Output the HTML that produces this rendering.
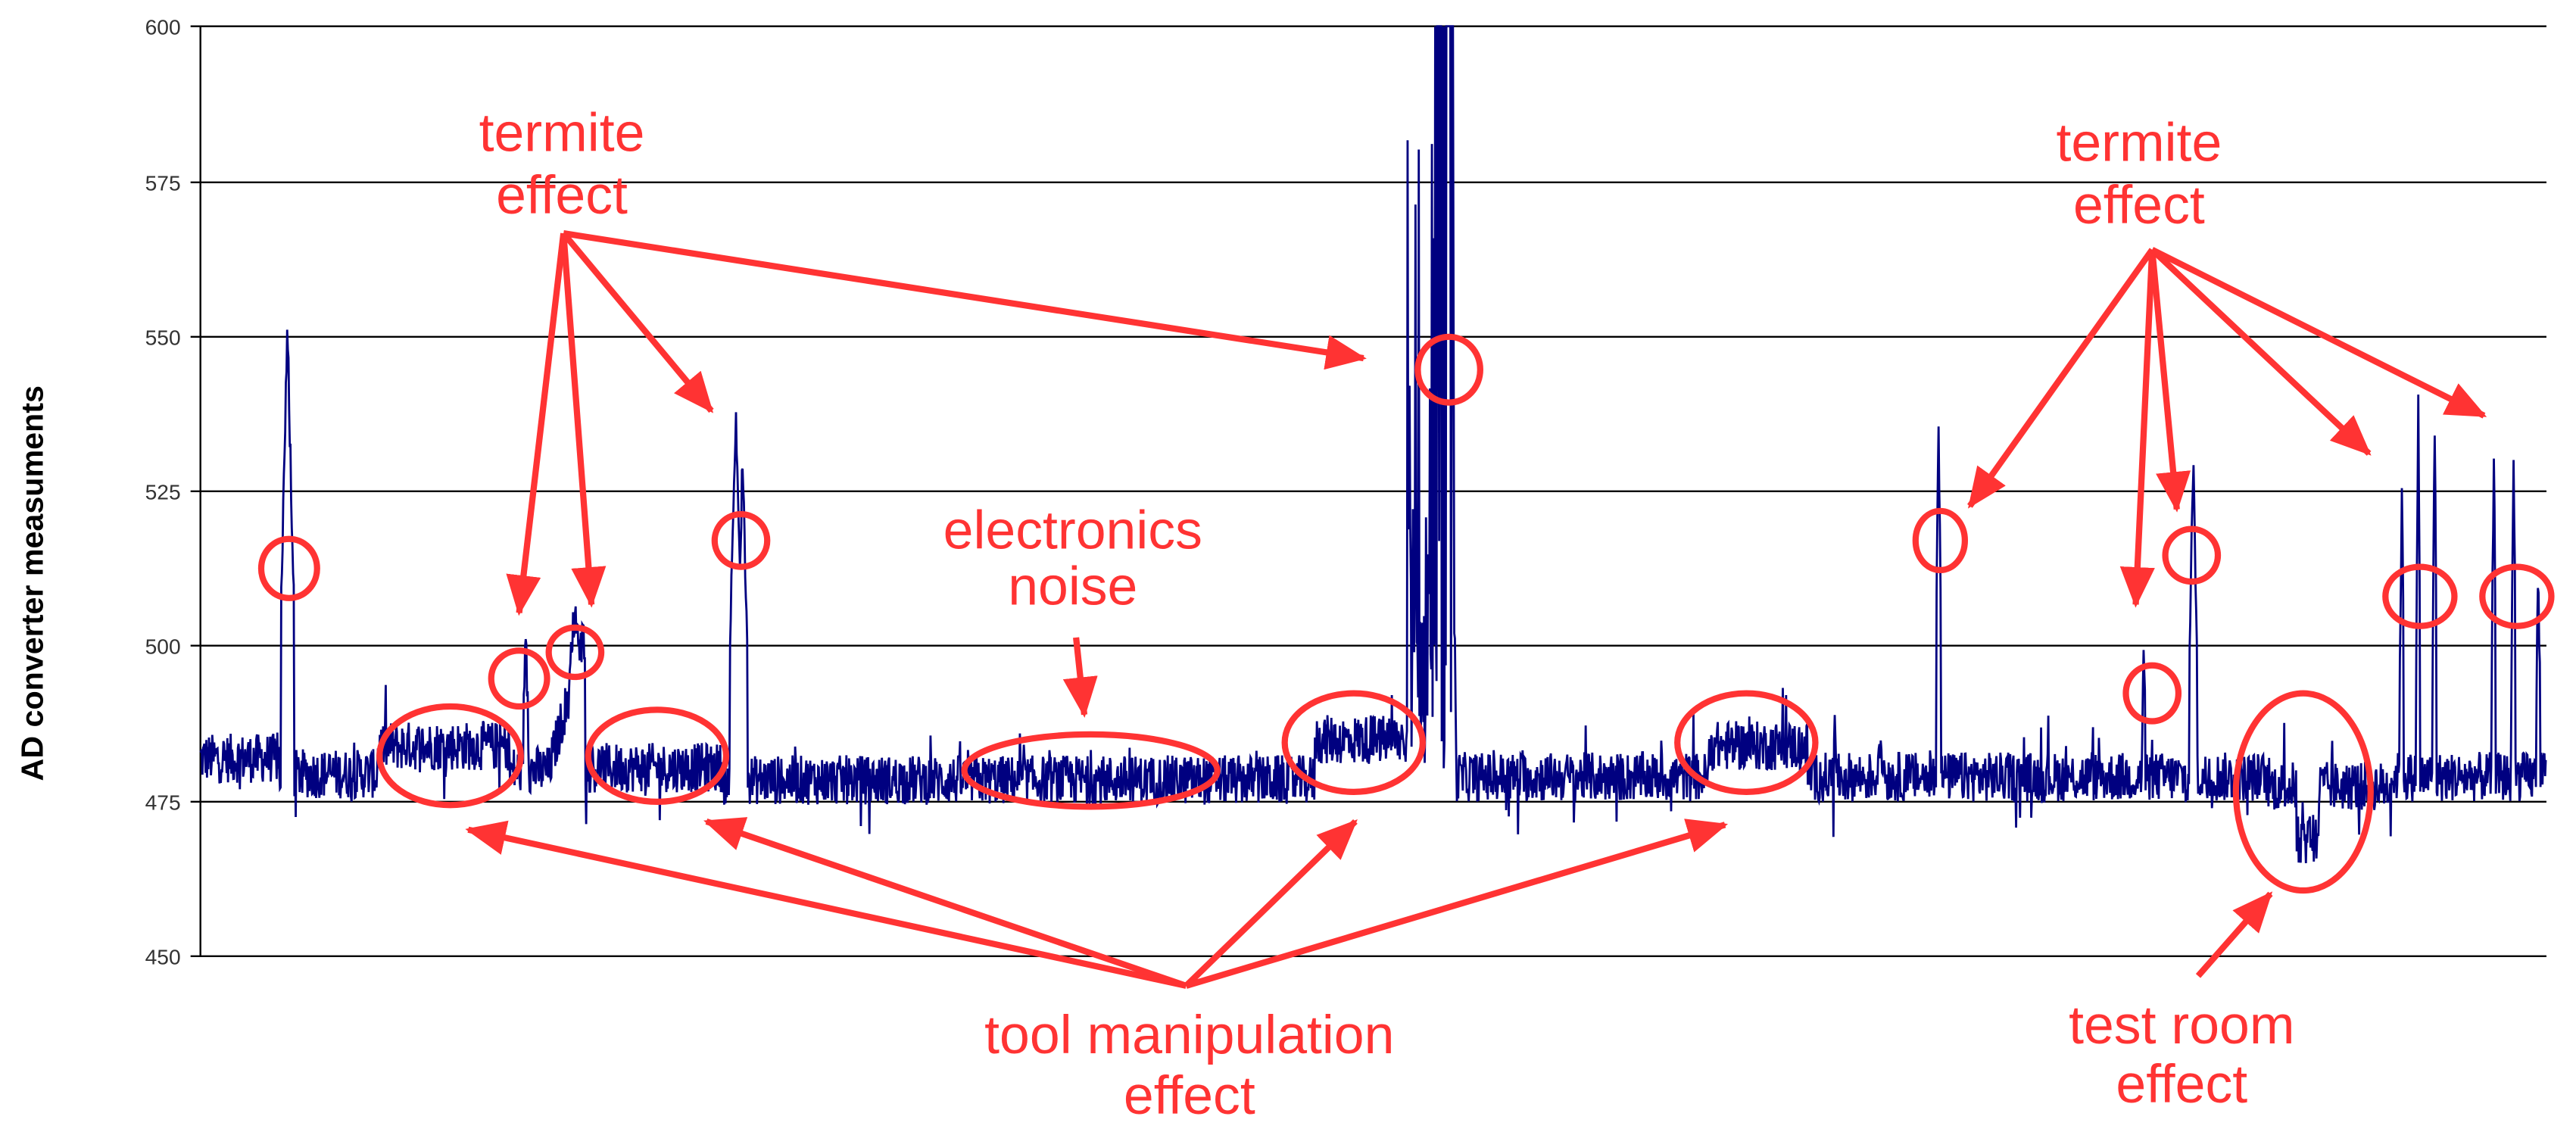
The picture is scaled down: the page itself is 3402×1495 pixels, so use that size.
<!DOCTYPE html>
<html><head><meta charset="utf-8"><style>
html,body{margin:0;padding:0;background:#fff;width:3402px;height:1495px;overflow:hidden}
svg{display:block}
.t{font-family:"Liberation Sans",sans-serif;fill:#ff3333;font-size:33px;text-anchor:middle}
.tk{font-family:"Liberation Sans",sans-serif;fill:#333;font-size:13px;text-anchor:end}
.r{fill:none;stroke:#ff3333;stroke-width:3.8}
.a{stroke:#ff3333;stroke-width:3.8;fill:none}
</style></head><body>
<svg id="s" width="3402" height="1495" viewBox="0 0 1568 689" preserveAspectRatio="none" xmlns="http://www.w3.org/2000/svg">
<defs><marker id="m" markerWidth="6.5" markerHeight="5.6" refX="6" refY="2.8" orient="auto" markerUnits="strokeWidth"><path d="M0,0 L6.5,2.8 L0,5.6 z" fill="#ff3333"/></marker></defs>
<text x="0" y="0" transform="translate(26,355) rotate(-90)" font-family="Liberation Sans, sans-serif" font-weight="bold" font-size="19" text-anchor="middle" fill="#000">AD converter measuments</text>
<g class="tk">
<text x="110" y="21">600</text><text x="110" y="116">575</text><text x="110" y="210">550</text><text x="110" y="304">525</text><text x="110" y="398">500</text><text x="110" y="493">475</text><text x="110" y="587">450</text>
</g>
<g stroke="#000" stroke-width="1.1">
<line x1="116" y1="16" x2="1550" y2="16"/><line x1="116" y1="111" x2="1550" y2="111"/><line x1="116" y1="205" x2="1550" y2="205"/><line x1="116" y1="299" x2="1550" y2="299"/><line x1="116" y1="393" x2="1550" y2="393"/><line x1="116" y1="488" x2="1550" y2="488"/><line x1="116" y1="582" x2="1550" y2="582"/>
<line x1="122" y1="16" x2="122" y2="582"/>
</g>
<polyline id="d" fill="none" stroke="#000080" stroke-width="1.3" points=""/>
<g class="r">
<ellipse cx="176" cy="346" rx="17" ry="18"/><ellipse cx="316" cy="413" rx="17" ry="17"/><ellipse cx="350" cy="397" rx="16" ry="15"/><ellipse cx="451" cy="329" rx="16" ry="16"/>
<ellipse cx="274" cy="460" rx="43" ry="30"/><ellipse cx="400" cy="460" rx="42" ry="28"/><ellipse cx="664" cy="469" rx="77" ry="22"/><ellipse cx="824" cy="452" rx="42" ry="30"/>
<ellipse cx="882" cy="225" rx="19" ry="20"/><ellipse cx="1063" cy="452" rx="42" ry="30"/><ellipse cx="1181" cy="329" rx="15" ry="18"/><ellipse cx="1310" cy="422" rx="16" ry="17"/>
<ellipse cx="1334" cy="338" rx="16" ry="16"/><ellipse cx="1402" cy="482" rx="41" ry="60"/><ellipse cx="1473" cy="363" rx="21" ry="18"/><ellipse cx="1532" cy="363" rx="21" ry="18"/>
</g>
<g class="a" marker-end="url(#m)">
<line x1="343" y1="142" x2="316" y2="373"/><line x1="343" y1="142" x2="360" y2="368"/><line x1="343" y1="142" x2="433" y2="250"/><line x1="343" y1="142" x2="830" y2="218"/>
<line x1="655" y1="388" x2="660" y2="435"/>
<line x1="1310" y1="152" x2="1199" y2="308"/><line x1="1310" y1="152" x2="1300" y2="368"/><line x1="1310" y1="152" x2="1325" y2="310"/><line x1="1310" y1="152" x2="1442" y2="276"/><line x1="1310" y1="152" x2="1512" y2="253"/>
<line x1="722" y1="600" x2="285" y2="505"/><line x1="722" y1="600" x2="430" y2="500"/><line x1="722" y1="600" x2="825" y2="500"/><line x1="722" y1="600" x2="1050" y2="502"/>
<line x1="1338" y1="594" x2="1382" y2="544"/>
</g>
<g class="t">
<text x="342" y="92">termite</text><text x="342" y="130">effect</text>
<text x="653" y="334">electronics</text><text x="653" y="368">noise</text>
<text x="1302" y="98">termite</text><text x="1302" y="136">effect</text>
<text x="724" y="641">tool manipulation</text><text x="724" y="678">effect</text>
<text x="1328" y="635">test room</text><text x="1328" y="671">effect</text>
</g>
</svg>
<script>
(function(){
var seed=12345;function rnd(){seed=(seed*1103515245+12345)%2147483648;return seed/2147483648;}
function Y(v){return 488-(v-475)*3.776;}
function base(x){
 if(x<170)return 482;if(x<230)return 479.5;if(x<310)return 484;if(x<335)return 480;
 if(x<356)return 481+(x-335)*1.0;if(x<440)return 480.5;if(x<800)return 478.5;if(x<858)return 485;
 if(x<1040)return 479;if(x<1100)return 484;if(x<1380)return 479;if(x<1455)return 477.5;return 479;}
var spikes=[[175,554,4],[320,505,1.5],[350,509,3],[448,538,4],[452,533,3],[1117,492,1],[1145,487,2],[1180,540,1.5],[1305,505,1],[1335,532,2.5],[1462,529,1.2],[1472,541,1.2],[1482,539,1.2],[1518,536,1.2],[1530,536,1.2],[1545,516,1.2]];
var pts=[];
for(var x=122;x<=1550;x+=0.4){
 var v=base(x)+(rnd()-0.5)*8+(rnd()<0.04?(rnd()-0.5)*14:0);
 for(var i=0;i<spikes.length;i++){var s=spikes[i];var dx=Math.abs(x-s[0]);if(dx<s[2]){v=Math.max(v,s[1]-dx/s[2]*(s[1]-base(x))*0.6-rnd()*6);}}
 if(x>=856&&x<=886){var r=rnd();if(r<0.5)v=500+rnd()*100;else v=480+rnd()*30;if(x>873&&x<885&&rnd()<0.6)v=600;}
 if(x>=1398&&x<=1412)v=465+rnd()*10;
 if(v>600)v=600;
 pts.push(x.toFixed(1)+","+Y(v).toFixed(1));
}
document.getElementById("d").setAttribute("points",pts.join(" "));
})();
</script>
</body></html>
